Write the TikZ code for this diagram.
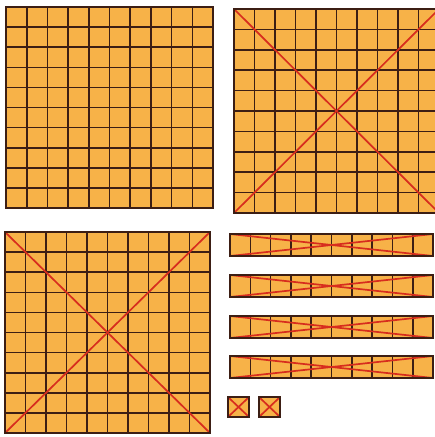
\documentclass[tikz,border=0pt]{standalone}
\begin{document}
\begin{tikzpicture}[x=1pt,y=-1pt]
\definecolor{blockfill}{RGB}{247,178,72}
\definecolor{gridcol}{RGB}{60,30,20}
\definecolor{xcol}{RGB}{215,45,30}
\useasboundingbox (0,0) rectangle (435,437);
\clip (0,0) rectangle (435,437);
% block: x0 y0 x1 y1 nx ny diag
\newcommand{\myblock}[7]{%
  \fill[blockfill] (#1,#2) rectangle (#3,#4);
  \foreach \i in {1,...,\numexpr#5-1\relax}{%
    \draw[gridcol, line width=1.6pt] ({#1+(#3-#1)*\i/#5},#2) -- ({#1+(#3-#1)*\i/#5},#4);}
  \ifnum#6>1
  \foreach \j in {1,...,\numexpr#6-1\relax}{%
    \draw[gridcol, line width=1.6pt] (#1,{#2+(#4-#2)*\j/#6}) -- (#3,{#2+(#4-#2)*\j/#6});}
  \fi
  \ifnum#7=1
    \draw[xcol, line width=1.7pt] (#1,#2) -- (#3,#4);
    \draw[xcol, line width=1.7pt] (#1,#4) -- (#3,#2);
  \fi
  \draw[gridcol, line width=1.8pt] (#1,#2) rectangle (#3,#4);
}
\myblock{6}{7}{213}{208}{10}{10}{0}
\myblock{234}{9}{439}{213}{10}{10}{1}
\myblock{5}{232}{210}{433}{10}{10}{1}
\myblock{230}{234}{433}{256}{10}{1}{1}
\myblock{230}{275}{433}{297}{10}{1}{1}
\myblock{230}{316}{433}{338}{10}{1}{1}
\myblock{230}{356}{433}{378}{10}{1}{1}
\fill[blockfill] (228,397) rectangle (249,417);
\draw[xcol, line width=1.7pt] (228,397) -- (249,417) (228,417) -- (249,397);
\draw[gridcol, line width=1.8pt] (228,397) rectangle (249,417);
\fill[blockfill] (259,397) rectangle (280,417);
\draw[xcol, line width=1.7pt] (259,397) -- (280,417) (259,417) -- (280,397);
\draw[gridcol, line width=1.8pt] (259,397) rectangle (280,417);
\end{tikzpicture}
\end{document}
